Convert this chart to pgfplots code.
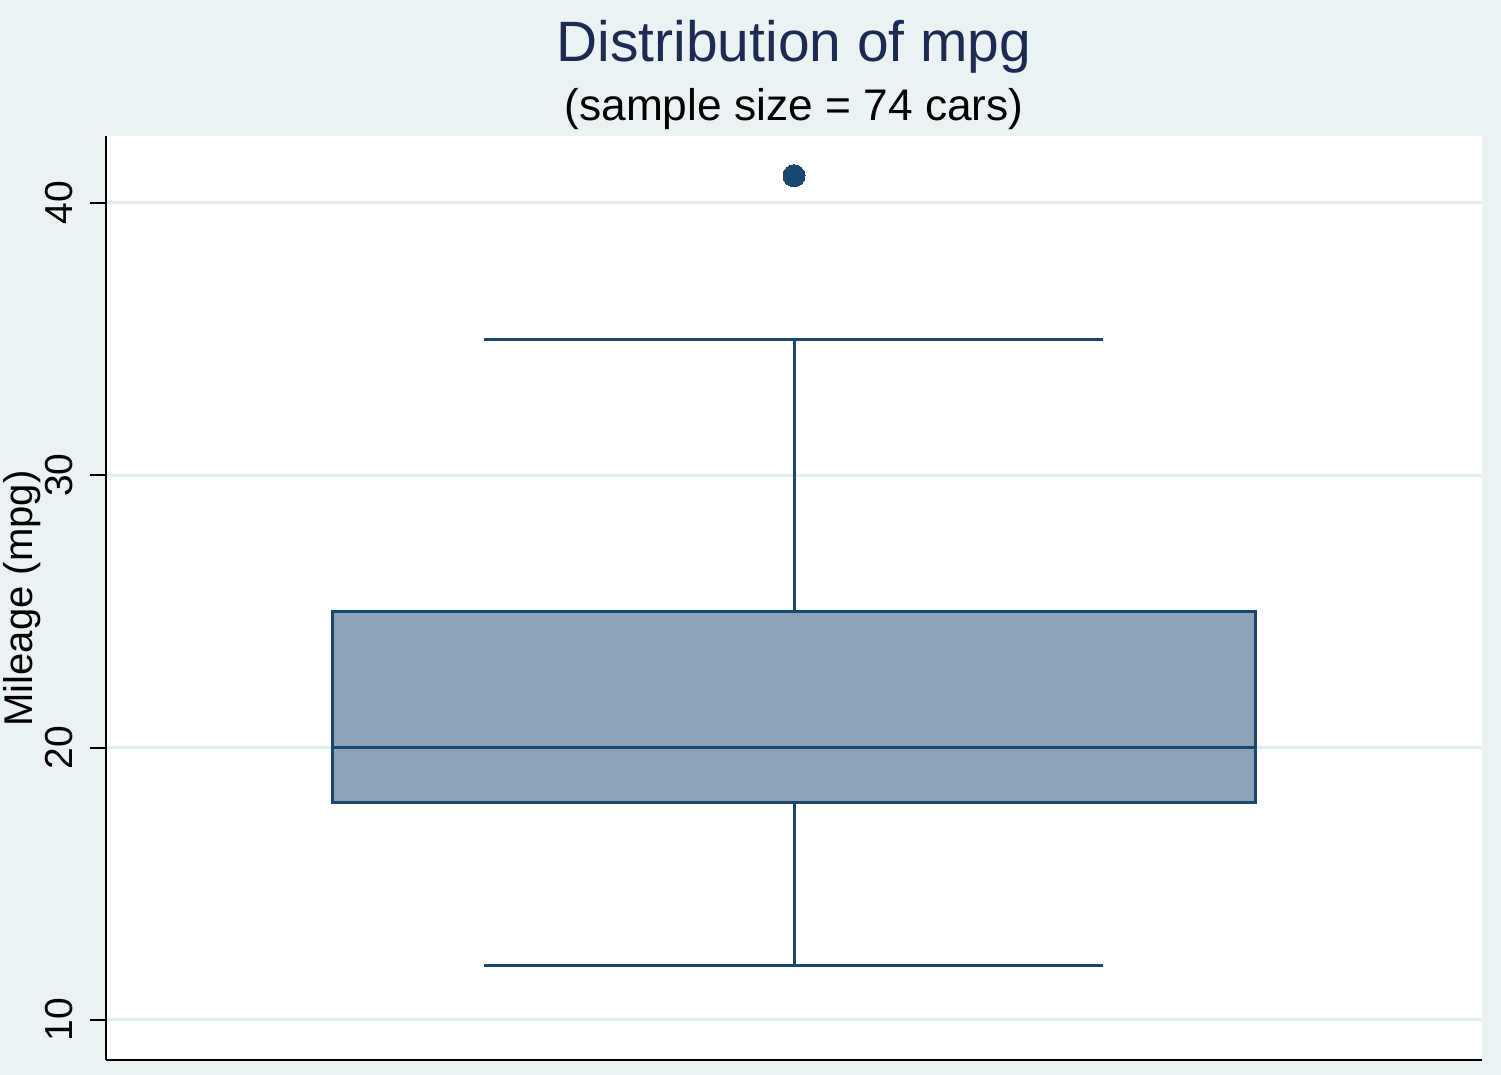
\documentclass[border=0pt]{standalone}
\usepackage{fontspec}
\setmainfont{Liberation Sans}
\usepackage{pgfplots}
\pgfplotsset{compat=1.18}

\definecolor{bgc}{HTML}{EAF2F3}
\definecolor{gridc}{HTML}{E6EEF0}
\definecolor{navy}{HTML}{1A476F}
\definecolor{navyfill}{HTML}{8DA3B7}
\definecolor{titlec}{HTML}{1E2A52}

\begin{document}
\begin{tikzpicture}
% page background (1 px of the reference = 0.1 mm)
\fill[bgc] (0,0) rectangle (150.1mm,107.5mm);
\useasboundingbox (0,0) rectangle (150.1mm,107.5mm);

\begin{axis}[
    at={(10.6mm,1.5mm)}, anchor=south west,
    scale only axis, width=137.6mm, height=92.4mm,
    xmin=0, xmax=2, ymin=8.53, ymax=42.46,
    axis x line*=bottom, axis y line*=left,
    axis line style={-, black, line width=0.2mm},
    axis background/.style={fill=white},
    xtick=\empty,
    ytick={10,20,30,40},
    ymajorgrids, grid style={gridc, line width=0.3mm},
    tick align=outside, major tick length=1.6mm,
    tick style={black, line width=0.2mm},
    /pgf/number format/assume math mode=true,
    yticklabel style={rotate=90, anchor=base, yshift=1.7mm,
                      font=\fontsize{11.1}{13}\selectfont},
    boxline/.style={draw=navy, line width=0.3mm, mark=none, solid},
  ]
  % box: lower quartile 18, upper quartile 25
  \addplot[boxline, fill=navyfill] coordinates
    {(0.3285,18) (1.6715,18) (1.6715,25) (0.3285,25)} -- cycle;
  % median
  \addplot[boxline] coordinates {(0.3285,20) (1.6715,20)};
  % whiskers and caps
  \addplot[boxline] coordinates {(1,25) (1,35)};
  \addplot[boxline] coordinates {(1,18) (1,12)};
  \addplot[boxline] coordinates {(0.5494,35) (1.449,35)};
  \addplot[boxline] coordinates {(0.5494,12) (1.449,12)};
  % outlier
  \addplot[only marks, mark=*, mark size=1.1mm,
           mark options={fill=navy, draw=navy, line width=0pt}]
    coordinates {(1,41)};
\end{axis}

\node[anchor=base, text=titlec, font=\fontsize{16.2}{19}\selectfont]
  at (79.4mm,101.3mm) {Distribution of mpg};
\node[anchor=base, font=\fontsize{12.6}{15}\selectfont]
  at (79.4mm,95.4mm) {(sample size = 74 cars)};
\node[anchor=base, rotate=90, font=\fontsize{11.4}{14}\selectfont]
  at (3.2mm,47.65mm) {Mileage (mpg)};
\end{tikzpicture}
\end{document}
